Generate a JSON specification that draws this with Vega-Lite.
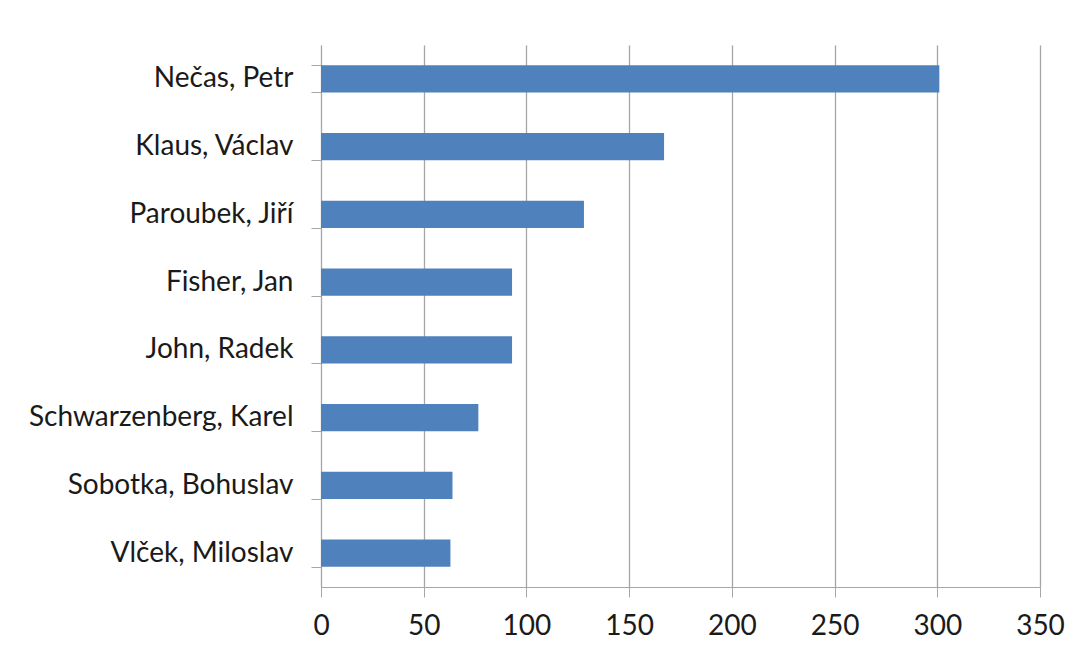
{
  "$schema": "https://vega.github.io/schema/vega-lite/v6.json",
  "autosize": {"type": "none"},
  "padding": {"left": 321, "top": 45, "right": 42, "bottom": 70},
  "width": 719,
  "height": 542,
  "background": "white",
  "config": {"view": {"stroke": null}, "font": "Lato"},
  "data": {"values": [
    {"name": "Nečas, Petr", "value": 301},
    {"name": "Klaus, Václav", "value": 167},
    {"name": "Paroubek, Jiří", "value": 128},
    {"name": "Fisher, Jan", "value": 93},
    {"name": "John, Radek", "value": 93},
    {"name": "Schwarzenberg, Karel", "value": 76.6},
    {"name": "Sobotka, Bohuslav", "value": 64},
    {"name": "Vlček, Miloslav", "value": 63}
  ]},
  "mark": {"type": "bar", "color": "#4f81bd"},
  "encoding": {
    "y": {"field": "name", "type": "nominal", "sort": null,
      "scale": {"paddingInner": 0.6, "paddingOuter": 0.3},
      "axis": {"title": null, "tickBand": "extent", "domainColor": "#a6a6a6", "tickColor": "#a6a6a6", "tickSize": 10, "labelPadding": 18, "labelFont": "Lato", "labelFontSize": 28, "labelColor": "#1a1a1a", "labelLimit": 0, "grid": false}},
    "x": {"field": "value", "type": "quantitative",
      "scale": {"domain": [0, 350], "nice": false},
      "axis": {"title": null, "values": [0, 50, 100, 150, 200, 250, 300, 350], "grid": true, "gridColor": "#a6a6a6", "gridWidth": 1.3, "domainColor": "#a6a6a6", "tickColor": "#a6a6a6", "tickSize": 10, "labelPadding": 15, "labelFont": "Lato", "labelFontSize": 28, "labelColor": "#1a1a1a", "labelFlush": false}}
  }
}
